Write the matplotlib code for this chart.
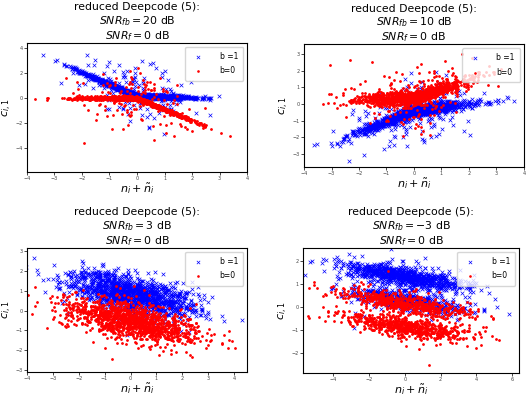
import numpy as np
import matplotlib
matplotlib.use("Agg")
import matplotlib.pyplot as plt

# SNR values shown in the panel titles
snr_fb = ["20", "10", "3", "-3"]
snr_f = ["0", "0", "0", "0"]

# axis limits and ticks
xlims = [(-4, 4), (-4, 4), (-4, 4.5), (-5.7, 6.4)]
ylims = [(-5.9, 4.4), (-3.8, 3.6), (-3.1, 3.15), (-2.87, 2.55)]
xticks = [np.arange(-4, 5, 1), np.arange(-4, 5, 1), np.arange(-4, 5, 1), np.arange(-4, 7, 2)]
yticks = [np.arange(-4, 5, 2), np.arange(-3, 4, 1), np.arange(-3, 4, 1), np.arange(-2, 3, 1)]

# cloud shape of each panel
# spread of n_i + ~n_i
x_std = [1.05, 1.05, 1.3, 1.8]
# b=1 : levels, slope left of 0, slope right of 0, band width, outlier share, outlier width
blue_levels = [[0.15], [-0.4], [0.85], [1.3, 1.3, 0.3]]
blue_slope_l = [-0.95, 0.65, -0.28, -0.12]
blue_slope_r = [-0.05, 0.2, -0.28, -0.12]
blue_sd = [0.08, 0.15, 0.45, 0.2]
blue_out = [0.1, 0.15, 0.05, 0.05]
blue_out_sd = [1.2, 0.8, 0.6, 0.5]
# b=0
red_levels = [[0.0], [0.35], [-0.5], [0.15, -0.85]]
red_slope_l = [0.0, 0.05, -0.25, -0.12]
red_slope_r = [-0.9, 0.55, -0.25, -0.12]
red_sd = [0.08, 0.2, 0.45, 0.2]
red_out = [0.1, 0.15, 0.05, 0.05]
red_out_sd = [1.2, 0.9, 0.6, 0.5]
n_points = 1300

rng = np.random.default_rng(7)


def make_cloud(sx, levels, sl, sr, sd, out, out_sd):
    x = rng.normal(0, sx, n_points)
    lev = np.array(levels)[rng.integers(0, len(levels), n_points)]
    y = lev + sl * np.minimum(x, 0) + sr * np.maximum(x, 0)
    y += rng.normal(0, sd, n_points)
    mask = rng.random(n_points) < out
    y[mask] += rng.normal(0, out_sd, mask.sum())
    return x, y


fig = plt.figure(figsize=(5.26, 3.98), dpi=100)
rects = [
    [0.051, 0.568, 0.419, 0.324],
    [0.578, 0.580, 0.418, 0.309],
    [0.051, 0.065, 0.419, 0.312],
    [0.576, 0.063, 0.411, 0.314],
]

for i in range(4):
    ax = fig.add_axes(rects[i])
    xb, yb = make_cloud(x_std[i], blue_levels[i], blue_slope_l[i], blue_slope_r[i],
                        blue_sd[i], blue_out[i], blue_out_sd[i])
    xr, yr = make_cloud(x_std[i], red_levels[i], red_slope_l[i], red_slope_r[i],
                        red_sd[i], red_out[i], red_out_sd[i])
    ax.scatter(xb, yb, marker="x", s=7, c="blue", linewidths=0.5, label="b =1")
    ax.scatter(xr, yr, marker=".", s=4, c="red", label="b=0")
    ax.set_xlim(xlims[i])
    ax.set_ylim(ylims[i])
    ax.set_xticks(xticks[i])
    ax.set_yticks(yticks[i])
    ax.tick_params(labelsize=3.5, length=2, width=0.5, pad=1, labelcolor="#444444")
    ax.set_xlabel(r"$n_i + \tilde{n}_i$", fontsize=8, labelpad=0)
    ax.set_ylabel(r"$c_{i,1}$", fontsize=8, labelpad=1)
    ax.set_title("reduced Deepcode (5):\n" + r"$SNR_{fb} = " + snr_fb[i] + r"$ dB" + "\n"
                 + r"$SNR_f = " + snr_f[i] + r"$ dB", fontsize=7.8, linespacing=1.15, pad=2)
    ax.legend(loc="upper right", fontsize=5.5, markerscale=0.9, handletextpad=1.8,
              borderpad=0.7, labelspacing=0.7)
    for sp in ax.spines.values():
        sp.set_linewidth(0.8)

fig.savefig("out.png", dpi=100)
